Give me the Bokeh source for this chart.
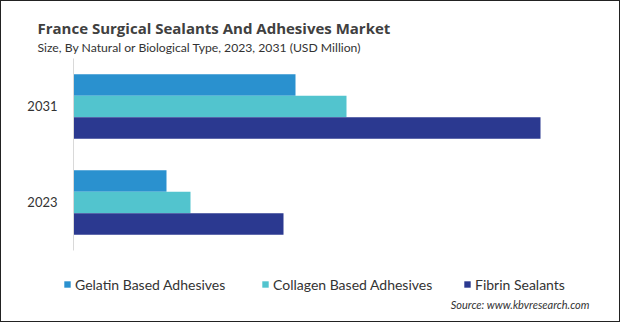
from bokeh.plotting import figure
from bokeh.models import Range1d, Legend, LegendItem, Label, ColumnDataSource
from bokeh.transform import dodge
from bokeh.core.properties import value
from bokeh.embed import file_html
from bokeh.resources import INLINE

years = ["2023", "2031"]
gelatin = [9.3, 22.2]
collagen = [11.7, 27.3]
fibrin = [21.0, 46.7]
series_names = ["Gelatin Based Adhesives", "Collagen Based Adhesives", "Fibrin Sealants"]
colors = ["#2A91CF", "#52C4CE", "#2B3990"]

ypos = [i + 0.5 for i in range(len(years))]  # category centres
src = ColumnDataSource(dict(year=years, ypos=ypos, gelatin=gelatin, collagen=collagen, fibrin=fibrin))

W, H = 620, 322
p = figure(width=W, height=H, output_backend="svg", toolbar_location=None,
           title=None, x_axis_location=None, y_axis_location=None,
           x_range=Range1d(-7.3, 54.7), y_range=Range1d(-0.75, 2.604),
           min_border=0)
p.outline_line_color = None
p.grid.visible = False
p.background_fill_color = "white"
p.border_fill_color = "white"

bh = 0.224
renderers = []
for col, off, c in zip(["gelatin", "collagen", "fibrin"], [bh, 0, -bh], colors):
    r = p.hbar(y=dodge("ypos", off), right=col, left=0, height=bh,
               source=src, color=c, line_color=None)
    renderers.append(r)

# category axis: line and labels
p.segment(x0=0, x1=0, y0=0, y1=len(years), line_color="#d9d9d9", line_width=1)
p.text(x=0, y="ypos", text="year", source=src, x_offset=-16, text_align="right",
       text_baseline="middle", text_font=value("Lato"), text_font_size="13px",
       text_color="#333333")

def lab(text, x, y, size, font, style="normal", color="#333333", align="left", baseline="alphabetic"):
    p.add_layout(Label(x=x, y=H - y, x_units="screen", y_units="screen", text=text,
                       text_font=font, text_font_size=size, text_font_style=style,
                       text_color=color, text_align=align, text_baseline=baseline))

lab("France Surgical Sealants And Adhesives Market", 37, 27.5, "15px", "Open Sans", "bold", "#404040")
lab("Size, By Natural or Biological Type, 2023, 2031 (USD Million)", 37, 46.7, "12.2px", "Lato")
lab("Source: www.kbvresearch.com", 589, 304, "11px", "Lato", "italic", align="right", baseline="middle")

for name, r, gx in zip(series_names, renderers, [63, 261, 463]):
    lg = Legend(items=[LegendItem(label=name, renderers=[r])], location=(gx, H - 294),
                orientation="horizontal", glyph_width=8, glyph_height=8, label_standoff=4,
                label_height=20, padding=0, margin=0, border_line_color=None,
                background_fill_alpha=0,
                label_text_font="Lato", label_text_font_size="14px", label_text_color="#333333")
    p.add_layout(lg)

p.stylesheets = [":host::after { content: ''; position: fixed; "
                 "left: 0; top: 0; width: 620px; height: 322px; box-sizing: border-box; "
                 "border: 1px solid #222222; pointer-events: none; z-index: 10; }"]

open("out.html", "w").write(file_html(p, INLINE))
